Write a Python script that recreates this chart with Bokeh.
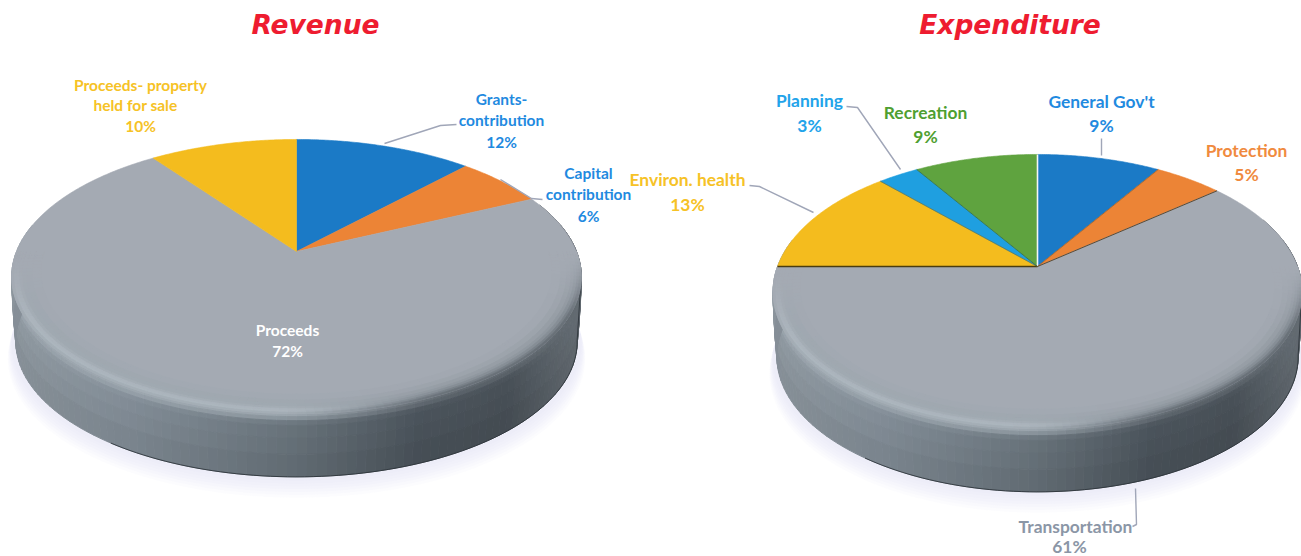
import numpy as np
from bokeh.core.properties import value
from bokeh.embed import file_html
from bokeh.models import Range1d
from bokeh.plotting import figure
from bokeh.resources import INLINE

# Shares of each budget, clockwise from twelve o'clock
revenue_names = ["Grants-\ncontribution", "Capital\ncontribution", "Proceeds", "Proceeds- property\nheld for sale"]
revenue_shares = [12, 6, 72, 10]
expenditure_names = ["General Gov't", "Protection", "Transportation", "Environ. health", "Planning", "Recreation"]
expenditure_shares = [9, 5, 61, 13, 3, 9]

# Styling
BLUE, ORANGE, GRAY, YELLOW, SKY, GREEN = "#1b7ac6", "#ec8436", "#a4aab3", "#f4bc1e", "#1f9fe0", "#5fa33f"
revenue_colors = [BLUE, ORANGE, GRAY, YELLOW]
expenditure_colors = [BLUE, ORANGE, GRAY, YELLOW, SKY, GREEN]
LABEL_BLUE, LABEL_SKY, LABEL_ORANGE, LABEL_YELLOW, LABEL_GREEN = "#1f8ae0", "#22a3ea", "#f08a3e", "#f6c226", "#4f9f31"
LABEL_GRAY = "#8b96a6"

# Perspective of the disc
TILT = 0.1827
HEIGHT = 132.5
DEPTH = 66


def hex_rgb(c):
    return np.array([int(c[i:i + 2], 16) for i in (1, 3, 5)], float)


def to_hex(rgb):
    return "#%02x%02x%02x" % tuple(int(round(v)) for v in np.clip(rgb, 0, 255))


def project(theta, cx, cy, radius, scale=1.0, drop=0.0):
    """Map an angle in degrees on the disc to page coordinates."""
    t = np.radians(theta)
    den = 1 + TILT * np.cos(t) * scale
    return (cx + radius * scale * np.sin(t) / den,
            cy - HEIGHT * scale * np.cos(t) / den + drop)


def wall_color(x_frac):
    stops = [0.0, 0.2, 0.5, 0.72, 0.88, 1.0]
    cols = ["#929ca4", "#85909a", "#69747c", "#4c555d", "#4a5259", "#666e75"]
    arr = np.array([hex_rgb(c) for c in cols])
    return np.array([np.interp(x_frac, stops, arr[:, i]) for i in range(3)])


def smooth(a, b, v):
    s = np.clip((v - a) / (b - a), 0, 1)
    return s * s * (3 - 2 * s)


# Rim profile from the flat top down to the base of the wall
BEVEL_SCALES = [0.90, 0.93, 0.95, 0.965, 0.975, 0.985, 0.993, 1.0]
BEVEL_LIGHT = ["#a4aab3", "#a1a8b1", "#9fa8b0", "#a1aab2", "#a7b0b8", "#afb8c0", "#aab3bb", "#9ea8b0"]
BEVEL_DARK = ["#a4aab3", "#a0a6af", "#9aa1a9", "#949ba3", "#8c949c", "#7f878f", "#707880", "#626a71"]
WALL_ROWS = [(1.0, 0), (1.0, 3), (1.0, 7), (0.999, 12), (0.997, 25), (0.993, 42), (0.986, DEPTH)]


def draw_pie(p, shares, colors, cx, cy, radius):
    # Soft shadow on the page under the disc
    theta = np.linspace(75, 285, 90)
    for i in range(7):
        x, y = project(theta, cx, cy, radius, 1.0 + 0.0022 * i, DEPTH + 1 + 2.4 * i)
        p.patch(x, y, fill_color="#d3d8f4", fill_alpha=0.08, line_color=None)

    surface = hex_rgb(GRAY)
    light = [hex_rgb(c) for c in BEVEL_LIGHT]
    dark = [hex_rgb(c) for c in BEVEL_DARK]

    # Side wall as thin facets
    edges = np.linspace(78, 282, 121)
    wall_xs, wall_ys, wall_cols = [], [], []
    for a, b in zip(edges[:-1], edges[1:]):
        xm, _ = project((a + b) / 2, cx, cy, radius)
        frac = (xm - (cx - radius)) / (2 * radius)
        wall = wall_color(frac)
        edge = light[-1] + (dark[-1] - light[-1]) * smooth(0.45, 0.8, frac)
        for (s0, d0), (s1, d1) in zip(WALL_ROWS[:-1], WALL_ROWS[1:]):
            xa0, ya0 = project(a, cx, cy, radius, s0, d0)
            xb0, yb0 = project(b, cx, cy, radius, s0, d0)
            xb1, yb1 = project(b, cx, cy, radius, s1, d1)
            xa1, ya1 = project(a, cx, cy, radius, s1, d1)
            d = (d0 + d1) / 2
            col = wall * (1 - 0.10 * d / DEPTH)
            col = edge + (col - edge) * smooth(0, 12, d)
            wall_xs.append([xa0, xb0, xb1, xa1])
            wall_ys.append([ya0, yb0, yb1, ya1])
            wall_cols.append(to_hex(col))
    p.patches(wall_xs, wall_ys, fill_color=wall_cols, line_color=wall_cols, line_width=0.9)

    # Dark outline down the right of the wall and along its base
    t = np.linspace(68, 100, 24)
    xr, yr = project(t, cx, cy, radius, 1.0, 0)
    t2 = np.linspace(100, 215, 80)
    xb, yb = project(t2, cx, cy, radius, 0.986, DEPTH)
    p.line(np.r_[xr, xb], np.r_[yr, yb], line_color="#2c3338", line_width=1.0, line_alpha=0.85)

    # Top surface: one wedge for each share
    ends = np.cumsum(shares) / np.sum(shares) * 360
    starts = np.r_[0, ends[:-1]]
    for a, b, col in zip(starts, ends, colors):
        t = np.linspace(a, b, max(int(b - a), 3) * 2)
        x, y = project(t, cx, cy, radius)
        p.patch(np.r_[cx, x], np.r_[cy, y], fill_color=col, line_color=col, line_width=0.6)

    # Bevel along the front rim, fading out towards the sides
    edges = np.linspace(90, 270, 121)
    bevel_xs, bevel_ys, bevel_cols = [], [], []
    for a, b in zip(edges[:-1], edges[1:]):
        mid = (a + b) / 2
        xm, _ = project(mid, cx, cy, radius)
        frac = (xm - (cx - radius)) / (2 * radius)
        mix = smooth(0.45, 0.8, frac)
        fade = smooth(90, 120, mid) * (1 - smooth(238, 270, mid))
        for j in range(len(BEVEL_SCALES) - 1):
            s0, s1 = BEVEL_SCALES[j], BEVEL_SCALES[j + 1]
            col = (light[j] + light[j + 1]) / 2 * (1 - mix) + (dark[j] + dark[j + 1]) / 2 * mix
            col = surface + (col - surface) * fade
            xa0, ya0 = project(a, cx, cy, radius, s0)
            xb0, yb0 = project(b, cx, cy, radius, s0)
            xb1, yb1 = project(b, cx, cy, radius, s1)
            xa1, ya1 = project(a, cx, cy, radius, s1)
            bevel_xs.append([xa0, xb0, xb1, xa1])
            bevel_ys.append([ya0, yb0, yb1, ya1])
            bevel_cols.append(to_hex(col))
    p.patches(bevel_xs, bevel_ys, fill_color=bevel_cols, line_color=bevel_cols, line_width=0.8)
    return starts, ends


def draw_labels(p, rows, size):
    for text, x, y, color in rows:
        p.text([x], [y], text=[text], text_font=value("Lato"), text_font_style="bold",
               text_font_size=size, text_color=color, text_align="center", text_baseline="middle")


def draw_leaders(p, paths):
    for xs, ys in paths:
        p.line(xs, ys, line_color="#a0a6b8", line_width=1.4)


p = figure(width=1301, height=556, output_backend="svg", toolbar_location=None,
           x_range=Range1d(0, 1301), y_range=Range1d(556, 0), min_border=0,
           background_fill_color="white", border_fill_color="white", outline_line_color=None)
p.axis.visible = False
p.grid.visible = False

# Revenue
RCX, RCY, RR = 296, 251, 280
starts, ends = draw_pie(p, revenue_shares, revenue_colors, RCX, RCY, RR)

# Expenditure
ECX, ECY, ER = 1037, 266, 260
starts_e, ends_e = draw_pie(p, expenditure_shares, expenditure_colors, ECX, ECY, ER)

# Thin separators between expenditure wedges
for angle, col, w in [(0, "#f4f6f8", 1.6), (ends_e[0], "#8a5a2a", 0.6), (ends_e[1], "#5a4a35", 1.0),
                      (ends_e[2], "#4a3c10", 1.3), (ends_e[3], "#7a6a20", 0.6), (ends_e[4], "#245a50", 0.6)]:
    xr, yr = project(np.array([angle]), ECX, ECY, ER)
    p.line([ECX, xr[0]], [ECY, yr[0]], line_color=col, line_width=w)

draw_leaders(p, [
    ([384, 440, 456], [143, 125, 124]),
    ([500, 531, 542], [179, 198, 199]),
    ([749, 759, 813], [185, 186, 212]),
    ([846, 857, 900], [106, 107, 169]),
    ([1101, 1101], [138, 155]),
    ([1135, 1136, 1132], [488, 524, 526]),
])

draw_labels(p, [
    ("Proceeds- property", 140, 84, LABEL_YELLOW),
    ("held for sale", 135, 104, LABEL_YELLOW),
    ("10%", 140, 125, LABEL_YELLOW),
    ("Grants-", 501, 98, LABEL_BLUE),
    ("contribution", 501, 119, LABEL_BLUE),
    ("12%", 501, 141, LABEL_BLUE),
    ("Capital", 588, 172, LABEL_BLUE),
    ("contribution", 588, 193, LABEL_BLUE),
    ("6%", 588, 215, LABEL_BLUE),
    ("Proceeds", 287, 329, "#ffffff"),
    ("72%", 287, 350, "#ffffff"),
], "15.5px")

draw_labels(p, [
    ("Planning", 809, 100, LABEL_SKY),
    ("3%", 809, 125, LABEL_SKY),
    ("Recreation", 925, 112, LABEL_GREEN),
    ("9%", 925, 136, LABEL_GREEN),
    ("General Gov't", 1101, 101, LABEL_BLUE),
    ("9%", 1101, 125, LABEL_BLUE),
    ("Protection", 1246, 150, LABEL_ORANGE),
    ("5%", 1246, 174, LABEL_ORANGE),
    ("Environ. health", 687, 179, LABEL_YELLOW),
    ("13%", 687, 204, LABEL_YELLOW),
    ("Transportation", 1075, 526, LABEL_GRAY),
    ("61%", 1069, 546, LABEL_GRAY),
], "17.4px")

for title, x in [("Revenue", 315), ("Expenditure", 1009.5)]:
    p.text([x], [24], text=[title], text_font=value("DejaVu Sans"), text_font_style="bold italic",
           text_font_size="26.5px", text_color="#ee1c30", text_align="center", text_baseline="middle")

open("out.html", "w").write(file_html(p, INLINE))
